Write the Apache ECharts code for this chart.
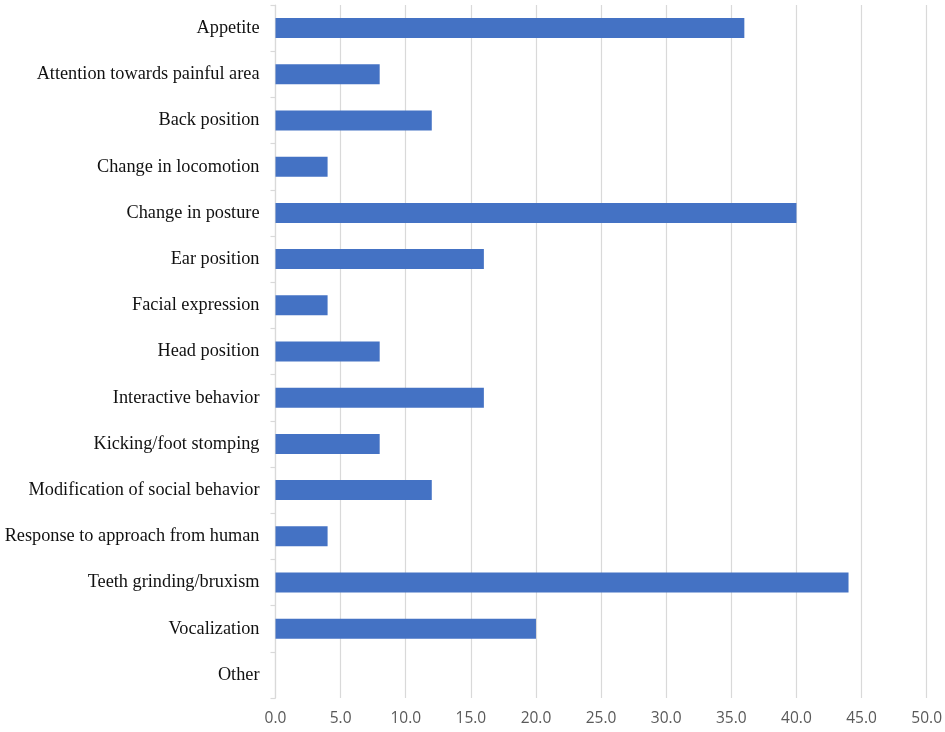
<!DOCTYPE html>
<html><head><meta charset="utf-8">
<script src="https://cdn.jsdelivr.net/npm/echarts@6/dist/echarts.min.js"></script>
<style>html,body{margin:0;padding:0;background:#fff}#c{width:945px;height:732px}</style>
</head><body><div id="c"></div>
<script>
const categories = ["Appetite","Attention towards painful area","Back position","Change in locomotion","Change in posture","Ear position","Facial expression","Head position","Interactive behavior","Kicking/foot stomping","Modification of social behavior","Response to approach from human","Teeth grinding/bruxism","Vocalization","Other"];
const values = [36,8,12,4,40,16,4,8,16,8,12,4,44,20,0];
const xMin = 0, xMax = 50, xStep = 5;

const chart = echarts.init(document.getElementById('c'), null, {renderer:'canvas'});
chart.setOption({
  animation:false,
  grid:{left:275.5,right:18,top:5,bottom:34,containLabel:false},
  xAxis:{type:'value',min:xMin,max:xMax,interval:xStep,
    axisLine:{show:false},axisTick:{show:false},
    splitLine:{show:true,lineStyle:{color:'#d9d9d9',width:1.2}},
    axisLabel:{formatter:v=>v.toFixed(1),color:'#595959',fontFamily:'Open Sans',fontSize:15.5,margin:13}
  },
  yAxis:{type:'category',data:categories,inverse:true,
    axisLine:{show:true,lineStyle:{color:'#d9d9d9',width:1.2}},
    axisTick:{show:true,length:5,lineStyle:{color:'#d9d9d9',width:1.2}},
    axisLabel:{color:'#111',fontFamily:'Liberation Serif',fontSize:18.3,margin:16}
  },
  series:[{type:'bar',data:values,barWidth:20,
    itemStyle:{color:'#4472C4'}}]
});
</script></body></html>
